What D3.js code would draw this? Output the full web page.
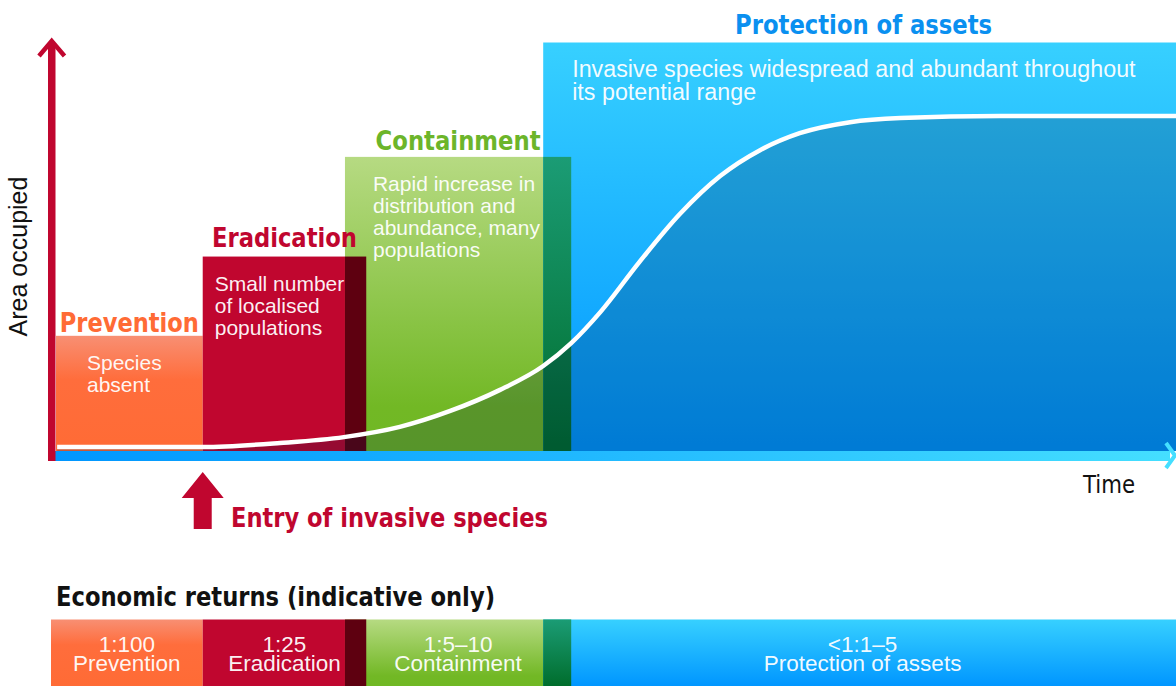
<!DOCTYPE html>
<html>
<head>
<meta charset="utf-8">
<script src="https://cdn.jsdelivr.net/npm/d3@7"></script>
<style>
body { margin: 0; background: #fff; }
svg { display: block; }
</style>
</head>
<body>
<script>
var width = 1176;
var height = 686;

// management stages: time span (0-100) and area occupied (0-100)
var stageNames = ["Prevention", "Eradication", "Containment", "Protection of assets"];
var stageStart = [0, 13.1, 25.8, 43.5];
var stageEnd = [13.1, 27.7, 46.0, 100];
var stageArea = [28.2, 47.6, 72.0, 100];
var stageNotes = [
  ["Species", "absent"],
  ["Small number", "of localised", "populations"],
  ["Rapid increase in", "distribution and", "abundance, many", "populations"],
  ["Invasive species widespread and abundant throughout", "its potential range"]
];
var returnRatios = ["1:100", "1:25", "1:5\u201310", "<1:1\u20135"];

// invasion curve (area occupied over time)
var curveTime = [0.1, 13.1, 20.0, 25.7, 30.7, 35.2, 39.6, 43.5, 46.0, 48.6, 52.1, 55.7, 59.3, 62.9, 66.4, 70.9, 75.4, 84.3, 100];
var curveArea = [0.98, 0.98, 1.96, 3.4, 5.9, 9.8, 14.9, 20.8, 26.4, 34.0, 46.3, 58.0, 67.3, 73.7, 77.8, 80.5, 81.5, 82.0, 82.0];

var titleColor = ["#ff6b35", "#c0062f", "#6cb52a", "#0a90f0"];
var stageFill = ["url(#gPrev)", "#c0062f", "url(#gCont)", "url(#gProt)"];
// colour where stage i overlaps the stage before it
var overlapFill = [null, null, "#5e0010", "url(#gOver)"];
var titleWidth = [139, 145, 165, 257];
var titleGap = [4, 10, 7, 9];
var noteDx = [31, 12, 28, 29];

var condensed = "'Liberation Sans Narrow', 'DejaVu Sans Condensed', 'Roboto', sans-serif";
var plain = "'Liberation Sans', Arial, sans-serif";

var x = d3.scaleLinear().domain([0, 100]).range([56, 1176]);
var y = d3.scaleLinear().domain([0, 100]).range([451, 42.5]);

var svg = d3.select("body").append("svg").attr("width", width).attr("height", height);
var defs = svg.append("defs");

function vGrad(id, stops) {
  var g = defs.append("linearGradient").attr("id", id)
    .attr("x1", 0).attr("y1", 0).attr("x2", 0).attr("y2", 1);
  stops.forEach(function(s) {
    g.append("stop").attr("offset", s[0]).attr("stop-color", s[1]);
  });
}
vGrad("gPrev", [[0, "#f88f73"], [0.38, "#ff6d3c"], [1, "#ff6b35"]]);
vGrad("gCont", [[0, "#b6da82"], [0.85, "#72b825"], [1, "#70b824"]]);
vGrad("gProt", [[0, "#37d0ff"], [1, "#0096ff"]]);
vGrad("gOver", [[0, "#1b9c75"], [1, "#006d2c"]]);

var axisGrad = defs.append("linearGradient").attr("id", "gAxis")
  .attr("gradientUnits", "userSpaceOnUse")
  .attr("x1", x(0)).attr("x2", x(100)).attr("y1", 0).attr("y2", 0);
axisGrad.append("stop").attr("offset", 0).attr("stop-color", "#0096ff");
axisGrad.append("stop").attr("offset", 1).attr("stop-color", "#45dfff");

// overlaps between neighbouring stages
var overlaps = d3.range(1, stageNames.length).map(function(i) {
  return { x0: stageStart[i], x1: stageEnd[i - 1], top: Math.min(stageArea[i - 1], stageArea[i]), fill: overlapFill[i] };
}).filter(function(d) { return d.x1 > d.x0; });

// stage blocks
svg.selectAll("rect.stage").data(stageNames).enter().append("rect")
  .attr("class", "stage")
  .attr("x", function(d, i) { return x(stageStart[i]); })
  .attr("width", function(d, i) { return x(stageEnd[i]) - x(stageStart[i]); })
  .attr("y", function(d, i) { return y(stageArea[i]); })
  .attr("height", function(d, i) { return y(0) - y(stageArea[i]); })
  .attr("fill", function(d, i) { return stageFill[i]; });

svg.selectAll("rect.overlap").data(overlaps).enter().append("rect")
  .attr("class", "overlap")
  .attr("x", function(d) { return x(d.x0); })
  .attr("width", function(d) { return x(d.x1) - x(d.x0); })
  .attr("y", function(d) { return y(d.top); })
  .attr("height", function(d) { return y(0) - y(d.top); })
  .attr("fill", function(d) { return d.fill; });

// darker shading under the curve
var curvePts = curveTime.map(function(t, i) { return [t, curveArea[i]]; });
var area = d3.area()
  .x(function(d) { return x(d[0]); })
  .y0(y(0))
  .y1(function(d) { return y(d[1]); })
  .curve(d3.curveMonotoneX);
svg.append("path").datum(curvePts).attr("d", area)
  .attr("fill", "#001a40").attr("opacity", 0.22);

var line = d3.line()
  .x(function(d) { return x(d[0]); })
  .y(function(d) { return y(d[1]); })
  .curve(d3.curveMonotoneX);
svg.append("path").datum(curvePts).attr("d", line)
  .attr("fill", "none").attr("stroke", "#fff").attr("stroke-width", 4.5);

// stage descriptions
stageNotes.forEach(function(lines, i) {
  var big = i === 3;
  var t = svg.append("text")
    .attr("x", x(stageStart[i]) + noteDx[i])
    .attr("y", y(stageArea[i]) + 34)
    .attr("fill", "#fff")
    .attr("fill-opacity", 0.95)
    .style("font-family", plain)
    .style("font-size", big ? "23.3px" : "21px");
  lines.forEach(function(l, j) {
    t.append("tspan").attr("x", x(stageStart[i]) + noteDx[i]).attr("dy", j === 0 ? 0 : (big ? 23 : 22)).text(l);
  });
});

// stage titles
svg.selectAll("text.title").data(stageNames).enter().append("text")
  .attr("class", "title")
  .attr("x", function(d, i) { return (x(stageStart[i]) + x(stageEnd[i])) / 2 + (i === 3 ? 4 : 0); })
  .attr("y", function(d, i) { return y(stageArea[i]) - titleGap[i]; })
  .attr("text-anchor", "middle")
  .attr("textLength", function(d, i) { return titleWidth[i]; })
  .attr("lengthAdjust", "spacingAndGlyphs")
  .attr("fill", function(d, i) { return titleColor[i]; })
  .style("font-family", condensed)
  .style("font-weight", "bold")
  .style("font-size", "27px")
  .text(function(d) { return d; });

// time axis
svg.append("rect").attr("x", 50).attr("y", y(0)).attr("width", x(100) - 56).attr("height", 10)
  .attr("fill", "url(#gAxis)");
svg.append("polyline").attr("points", "1166,443 1175,455.5 1166,468")
  .attr("fill", "none").attr("stroke", "#45dfff").attr("stroke-width", 4);

// area axis
svg.append("rect").attr("x", 48).attr("y", 44).attr("width", 7.5).attr("height", 417).attr("fill", "#c0062f");
svg.append("polyline").attr("points", "39,56 51.7,41 64.5,56")
  .attr("fill", "none").attr("stroke", "#c0062f").attr("stroke-width", 4.5);

svg.append("text").attr("transform", "translate(27,256.5) rotate(-90)")
  .attr("text-anchor", "middle").attr("fill", "#111")
  .style("font-family", plain).style("font-size", "25px")
  .text("Area occupied");

svg.append("text").attr("x", 1083).attr("y", 493)
  .attr("textLength", 52).attr("lengthAdjust", "spacingAndGlyphs")
  .attr("fill", "#111").style("font-family", condensed).style("font-size", "24px")
  .text("Time");

// entry arrow
var ex = x(stageStart[1]);
svg.append("path")
  .attr("d", "M" + ex + ",472 L" + (ex + 21) + ",498 L" + (ex + 9) + ",498 L" + (ex + 9) + ",529 L" + (ex - 9) + ",529 L" + (ex - 9) + ",498 L" + (ex - 21) + ",498 Z")
  .attr("fill", "#c0062f");
svg.append("text").attr("x", 231).attr("y", 527)
  .attr("textLength", 317).attr("lengthAdjust", "spacingAndGlyphs")
  .attr("fill", "#c0062f").style("font-family", condensed).style("font-weight", "bold").style("font-size", "27px")
  .text("Entry of invasive species");

// economic returns band
svg.append("text").attr("x", 56).attr("y", 606)
  .attr("textLength", 439).attr("lengthAdjust", "spacingAndGlyphs")
  .attr("fill", "#111").style("font-family", condensed).style("font-weight", "bold").style("font-size", "27px")
  .text("Economic returns (indicative only)");

var bandTop = 619.5;
var bandLeft = function(i) { return i === 0 ? x(stageStart[i]) - 5 : x(stageStart[i]); };

svg.selectAll("rect.band").data(stageNames).enter().append("rect")
  .attr("class", "band")
  .attr("x", function(d, i) { return bandLeft(i); })
  .attr("width", function(d, i) { return x(stageEnd[i]) - bandLeft(i); })
  .attr("y", bandTop).attr("height", height - bandTop)
  .attr("fill", function(d, i) { return stageFill[i]; });

svg.selectAll("rect.bandOverlap").data(overlaps).enter().append("rect")
  .attr("class", "bandOverlap")
  .attr("x", function(d) { return x(d.x0); })
  .attr("width", function(d) { return x(d.x1) - x(d.x0); })
  .attr("y", bandTop).attr("height", height - bandTop)
  .attr("fill", function(d) { return d.fill; });

var bandText = svg.selectAll("text.band").data(stageNames).enter().append("text")
  .attr("class", "band")
  .attr("text-anchor", "middle")
  .attr("fill", "#fff").attr("fill-opacity", 0.95)
  .style("font-family", plain).style("font-size", "22.5px");
bandText.append("tspan")
  .attr("x", function(d, i) { return (bandLeft(i) + x(stageEnd[i])) / 2 + (i === 3 ? 3 : 0); })
  .attr("y", 651.5)
  .text(function(d, i) { return returnRatios[i]; });
bandText.append("tspan")
  .attr("x", function(d, i) { return (bandLeft(i) + x(stageEnd[i])) / 2 + (i === 3 ? 3 : 0); })
  .attr("y", 671)
  .text(function(d) { return d; });
</script>
</body>
</html>
